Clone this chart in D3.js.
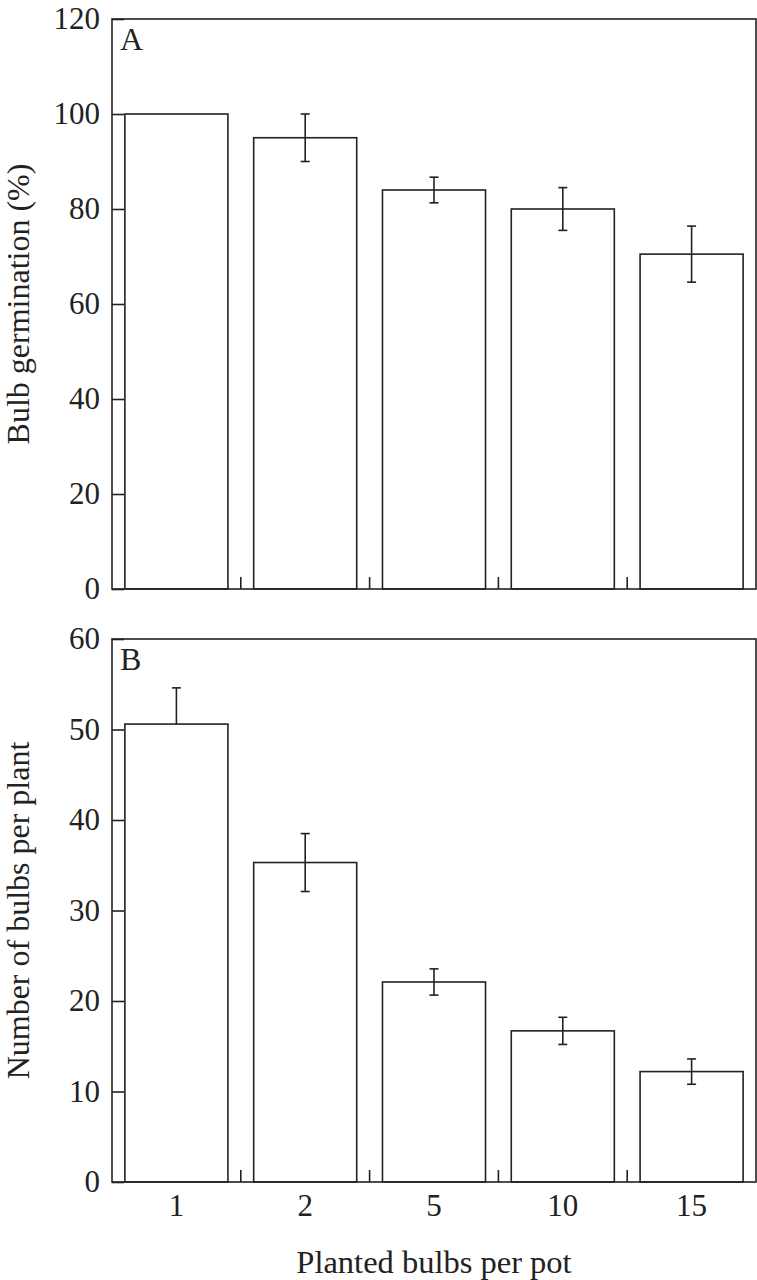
<!DOCTYPE html>
<html>
<head>
<meta charset="utf-8">
<script src="https://cdn.jsdelivr.net/npm/d3@7/dist/d3.min.js"></script>
<style>
  html, body { margin: 0; padding: 0; background: #fff; }
  svg { display: block; }
  text { font-family: "Liberation Serif", "Times New Roman", serif; fill: #222; }
</style>
</head>
<body>
<svg id="chart" width="757" height="1280"></svg>
<script>
// ---- Data ----
const categories = ["1", "2", "5", "10", "15"];

// Panel A: bulb germination (%)
const germination = [100, 95, 84, 80, 70.5];
const germErrUp   = [0, 5, 2.7, 4.5, 5.9];
const germErrDown = [0, 5, 2.7, 4.5, 5.9];
const ticksA = [0, 20, 40, 60, 80, 100, 120];

// Panel B: number of bulbs per plant
const bulbsPerPlant = [50.6, 35.3, 22.1, 16.7, 12.2];
const bulbsErrUp    = [4.0, 3.2, 1.45, 1.5, 1.4];
const bulbsErrDown  = [0, 3.2, 1.45, 1.5, 1.4];
const ticksB = [0, 10, 20, 30, 40, 50, 60];

const xTitle = "Planted bulbs per pot";

// ---- Layout ----
const svg = d3.select("#chart");
const left = 112, right = 756;
const ink = "#222";
const sw = 1.6;

const x = d3.scaleBand().domain(categories).range([left, right])
  .paddingInner(0.2).paddingOuter(0.1);

function panel(cfg) {
  const y = d3.scaleLinear().domain([0, cfg.max]).range([cfg.bottom, cfg.top]);
  const g = svg.append("g");

  // bars
  g.selectAll("rect.bar").data(cfg.values).join("rect")
    .attr("class", "bar")
    .attr("x", (d, i) => x(categories[i]))
    .attr("width", x.bandwidth())
    .attr("y", d => y(d))
    .attr("height", d => y(0) - y(d))
    .attr("fill", "#fff").attr("stroke", ink).attr("stroke-width", sw);

  // error bars
  const cap = 4.5;
  cfg.values.forEach((v, i) => {
    const cx = x(categories[i]) + x.bandwidth() / 2;
    const up = cfg.errUp[i], dn = cfg.errDown[i];
    if (up > 0) {
      g.append("line").attr("x1", cx).attr("x2", cx).attr("y1", y(v)).attr("y2", y(v + up))
        .attr("stroke", ink).attr("stroke-width", sw);
      g.append("line").attr("x1", cx - cap).attr("x2", cx + cap).attr("y1", y(v + up)).attr("y2", y(v + up))
        .attr("stroke", ink).attr("stroke-width", sw);
    }
    if (dn > 0) {
      g.append("line").attr("x1", cx).attr("x2", cx).attr("y1", y(v)).attr("y2", y(v - dn))
        .attr("stroke", ink).attr("stroke-width", sw);
      g.append("line").attr("x1", cx - cap).attr("x2", cx + cap).attr("y1", y(v - dn)).attr("y2", y(v - dn))
        .attr("stroke", ink).attr("stroke-width", sw);
    }
  });

  // y axis (inward ticks)
  const ax = g.append("g").attr("transform", `translate(${left},0)`)
    .call(d3.axisLeft(y).tickValues(cfg.ticks).tickSizeInner(-12).tickSizeOuter(0).tickPadding(12));
  ax.select(".domain").remove();
  ax.selectAll(".tick line").attr("stroke", ink).attr("stroke-width", sw);
  ax.selectAll(".tick text").attr("font-size", 31).attr("fill", ink)
    .attr("font-family", "'Liberation Serif', serif");

  // bottom separator ticks between bands
  const seps = categories.slice(0, -1).map(c => x(c) + x.bandwidth() + x.step() * x.paddingInner() / 2);
  g.selectAll("line.sep").data(seps).join("line")
    .attr("x1", d => d).attr("x2", d => d)
    .attr("y1", cfg.bottom).attr("y2", cfg.bottom - 12)
    .attr("stroke", ink).attr("stroke-width", sw);

  // frame
  g.append("rect").attr("x", left).attr("y", cfg.top)
    .attr("width", right - left).attr("height", cfg.bottom - cfg.top)
    .attr("fill", "none").attr("stroke", ink).attr("stroke-width", sw);

  // panel letter
  g.append("text").attr("x", left + 8).attr("y", cfg.top + 31)
    .attr("font-size", 32).text(cfg.letter);

  // y title
  g.append("text")
    .attr("transform", `translate(29,${(cfg.top + cfg.bottom) / 2}) rotate(-90)`)
    .attr("text-anchor", "middle").attr("font-size", 32).text(cfg.title);

  return y;
}

panel({ top: 19, bottom: 589, max: 120, values: germination, errUp: germErrUp, errDown: germErrDown,
        ticks: ticksA, letter: "A", title: "Bulb germination (%)" });
panel({ top: 639, bottom: 1182, max: 60, values: bulbsPerPlant, errUp: bulbsErrUp, errDown: bulbsErrDown,
        ticks: ticksB, letter: "B", title: "Number of bulbs per plant" });

// x axis labels
const xa = svg.append("g").attr("transform", "translate(0,1182)")
  .call(d3.axisBottom(x).tickSize(0).tickPadding(12));
xa.select(".domain").remove();
xa.selectAll(".tick text").attr("font-size", 31).attr("fill", ink)
  .attr("font-family", "'Liberation Serif', serif").attr("dy", "0.71em");

svg.append("text").attr("x", (left + right) / 2).attr("y", 1273)
  .attr("text-anchor", "middle").attr("font-size", 32.5).text(xTitle);
</script>
</body>
</html>
